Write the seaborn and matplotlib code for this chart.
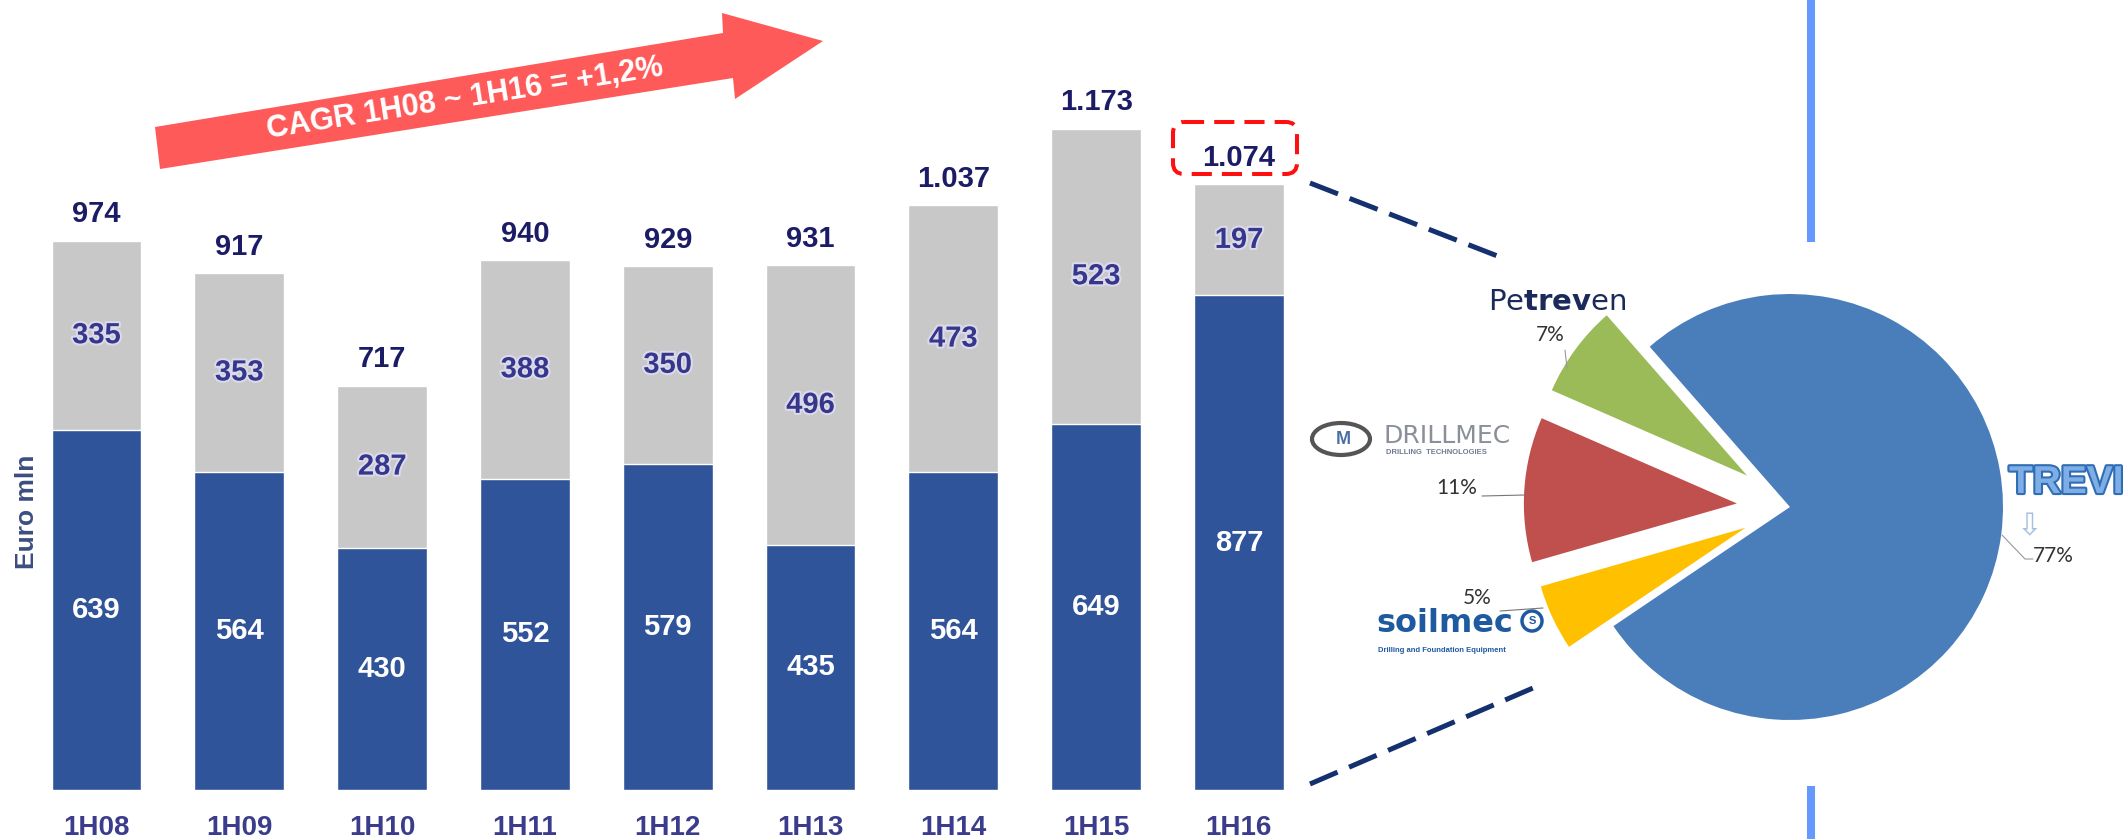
import numpy as np
import pandas as pd
import matplotlib
matplotlib.use("Agg")
import matplotlib.pyplot as plt
import matplotlib.patheffects as pe
from matplotlib.patches import Polygon, FancyBboxPatch, Ellipse, Circle
import seaborn as sns

# Bar data (Euro mln)
periods = ["1H08", "1H09", "1H10", "1H11", "1H12", "1H13", "1H14", "1H15", "1H16"]
lower_vals = [639, 564, 430, 552, 579, 435, 564, 649, 877]
upper_vals = [335, 353, 287, 388, 350, 496, 473, 523, 197]
totals = [974, 917, 717, 940, 929, 931, 1037, 1173, 1074]
total_labels = ["974", "917", "717", "940", "929", "931", "1.037", "1.173", "1.074"]

# Pie data (1H16 split by company)
companies = ["Trevi", "Petreven", "Drillmec", "Soilmec"]
shares = [77, 7, 11, 5]
share_labels = ["77%", "7%", "11%", "5%"]
pie_colors = ["#4A7EBB", "#9BBB59", "#C0504D", "#FFC000"]

W, H = 2128, 839

sns.set_theme(style="white")
plt.rcParams["font.family"] = ["Liberation Sans", "DejaVu Sans"]

fig = plt.figure(figsize=(W / 100, H / 100), dpi=100)
fig.patch.set_facecolor("white")

# ---- stacked bars ----
ax = fig.add_axes([25.1 / W, 49 / H, 1285.2 / W, 790 / H])
df = pd.DataFrame({"period": periods, "total": totals, "lower": lower_vals, "upper": upper_vals})
sns.barplot(data=df, x="period", y="total", color="#C8C8C8", width=0.63,
            saturation=1, errorbar=None, ax=ax)
sns.barplot(data=df, x="period", y="lower", color="#30549A", width=0.63,
            saturation=1, errorbar=None, ax=ax)
ax.set_xlim(-0.5, len(periods) - 0.5)
ax.set_ylim(0, 1401)
ax.set_xlabel("")
ax.set_ylabel("")
ax.set_yticks([])
sns.despine(ax=ax, left=True, bottom=True)
ax.tick_params(axis="x", length=0, pad=18)
for lab in ax.get_xticklabels():
    lab.set_fontsize(20)
    lab.set_fontweight("bold")
    lab.set_color("#3C3C8C")
ax.patch.set_alpha(0)

glow = [pe.withStroke(linewidth=3, foreground="#DADAEA")]
for i in range(len(periods)):
    ax.annotate(total_labels[i], (i, totals[i]), xytext=(0, 19), textcoords="offset points",
                ha="center", va="center", fontsize=21, fontweight="bold", color="#1C1C66")
    ax.text(i, (lower_vals[i] + totals[i]) / 2, str(upper_vals[i]), ha="center", va="center",
            fontsize=21, fontweight="bold", color="#36368C", path_effects=glow)
    ax.text(i, lower_vals[i] / 2, str(lower_vals[i]), ha="center", va="center",
            fontsize=21, fontweight="bold", color="white")

# ---- pie ----
pax = fig.add_axes([1385.3 / W, 12.5 / H, 745.5 / W, 639 / H])
pax.pie(shares, colors=pie_colors, startangle=-146, counterclock=True,
        explode=[0, 0.25, 0.25, 0.23], wedgeprops=dict(linewidth=0))
pax.set_xlim(-1.9, 1.6)
pax.set_ylim(-1.5, 1.5)
pax.set_aspect("auto")
pax.axis("off")

# ---- overlay in pixel coordinates ----
ov = fig.add_axes([0, 0, 1, 1], zorder=5)
ov.set_xlim(0, W)
ov.set_ylim(H, 0)
ov.axis("off")
ov.patch.set_visible(False)

# CAGR arrow
arrow_pts = [(155, 127), (723, 33), (722, 13), (823, 41), (735, 99), (733, 78), (160, 169)]
ov.add_patch(Polygon(arrow_pts, closed=True, facecolor="#FF5A5A", edgecolor="none"))
ov.text(465, 99, "CAGR 1H08 ~ 1H16 = +1,2%", rotation=9, rotation_mode="anchor",
        ha="center", va="center", color="white", fontsize=22, fontweight="bold")

# y label
ov.text(27, 512, "Euro mln", rotation=90, ha="center", va="center",
        fontsize=19, fontweight="bold", color="#3B4E7E")

# highlight box around last total
ov.add_patch(FancyBboxPatch((1173, 122), 124, 52, boxstyle="round,pad=0,rounding_size=11",
                            fill=False, edgecolor="#FF1010", linewidth=2.9,
                            linestyle=(0, (5, 2.5))))

# dashed connectors
for (x0, y0), (x1, y1) in [((1310, 183), (1500, 257)), ((1310, 784), (1540, 685))]:
    ov.plot([x0, x1], [y0, y1], color="#14306E", lw=3.6, dashes=(6, 2.5), solid_capstyle="butt")

# blue divider
ov.plot([1811, 1811], [0, 242], color="#6699FF", lw=5.8, solid_capstyle="butt")
ov.plot([1811, 1811], [786, 839], color="#6699FF", lw=5.8, solid_capstyle="butt")

# pie labels and leaders
pct_font = dict(fontsize=15, color="#333333", family=["Lato", "DejaVu Sans"], ha="center", va="center")
ov.text(2053, 556, share_labels[0], **pct_font)
ov.plot([2002, 2025, 2033], [535, 559, 559], color="#999999", lw=0.8)
ov.text(1550, 335, share_labels[1], **pct_font)
ov.plot([1565, 1567], [350, 368], color="#999999", lw=0.8)
ov.text(1457, 488, share_labels[2], **pct_font)
ov.plot([1482, 1525], [496, 495], color="#777777", lw=0.8)
ov.text(1477, 598, share_labels[3], **pct_font)
ov.plot([1500, 1543], [611, 608], color="#777777", lw=0.8)

# company marks
ov.text(1488, 302, r"Pe$\mathbf{trev}$en", ha="left", va="center", fontsize=21,
        color="#1B2A5A", family=["DejaVu Sans"])
ov.add_patch(Ellipse((1341, 439), 58, 32, fill=False, edgecolor="#555555", lw=3))
ov.text(1343, 440, "M", ha="center", va="center", fontsize=13, fontweight="bold", color="#4A6FA5")
ov.text(1383, 436, "DRILLMEC", ha="left", va="center", fontsize=18, color="#8A8F9A",
        family=["DejaVu Sans"])
ov.text(1386, 453, "DRILLING  TECHNOLOGIES", ha="left", va="center", fontsize=5.5,
        color="#6F7C93", fontweight="bold")
ov.text(1376, 623, "soilmec", ha="left", va="center", fontsize=23, fontweight="bold",
        color="#1E5AA0", family=["DejaVu Sans"])
ov.add_patch(Circle((1532, 621), 10, fill=False, edgecolor="#1E5AA0", lw=2.5))
ov.text(1532, 621, "S", ha="center", va="center", fontsize=8, fontweight="bold", color="#1E5AA0")
ov.text(1378, 651, "Drilling and Foundation Equipment", ha="left", va="center",
        fontsize=5.5, color="#1E5AA0", fontweight="bold")
ov.text(2009, 483, "TREVI", ha="left", va="center", fontsize=28, fontweight="bold",
        color="#7FAEE6",
        path_effects=[pe.withStroke(linewidth=3, foreground="#2F6DB5")])
ov.text(2030, 527, "\u21E9", ha="center", va="center", fontsize=22, color="#A8C0E0",
        family=["DejaVu Sans"])

fig.savefig("out.png", dpi=100, facecolor="white")
